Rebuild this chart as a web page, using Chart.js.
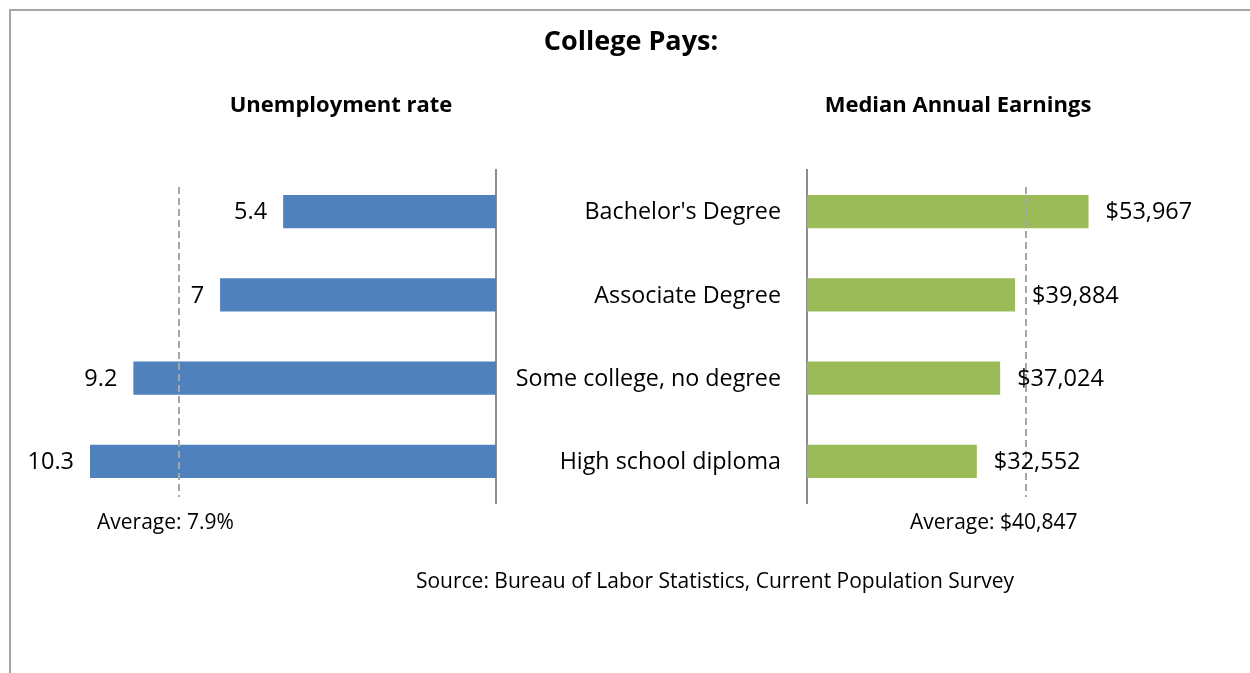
<!DOCTYPE html>
<html><head><meta charset="utf-8">
<script src="https://cdn.jsdelivr.net/npm/chart.js@4/dist/chart.umd.min.js"></script>
<style>
html,body{margin:0;padding:0;background:#fff;}
#wrap{position:relative;width:1250px;height:673px;overflow:hidden;background:#fff;}
#frame{position:absolute;left:9px;top:9px;width:1300px;height:700px;border-left:2px solid #a6a6a6;border-top:2px solid #a6a6a6;}
canvas{position:absolute;left:0;top:0;}
</style></head><body>
<div id="wrap"><div id="frame"></div>
<canvas id="left" width="1250" height="673"></canvas>
<canvas id="right" width="1250" height="673"></canvas></div>
<script>
// ---- data ----
const categories = ["Bachelor's Degree", "Associate Degree", "Some college, no degree", "High school diploma"];
const unemploymentRate = [5.4, 7, 9.2, 10.3];
const medianEarnings = [53967, 39884, 37024, 32552];
const earningsLabels = ["$53,967", "$39,884", "$37,024", "$32,552"];
const averageUnemploymentLine = 8.05;  // dashed line position as drawn
const averageEarningsLine = 42000;     // dashed line position as drawn
const averageLabels = ["Average: 7.9%", "Average: $40,847"];
const unemploymentAxis = [0, 12];
const earningsAxis = [0, 60000];
const titles = ["College Pays:", "Unemployment rate", "Median Annual Earnings"];
const sourceText = "Source: Bureau of Labor Statistics, Current Population Survey";

const FONT = "'Open Sans', sans-serif";

function dashedLine(chart, value) {
  const ctx = chart.ctx, x = chart.scales.x.getPixelForValue(value), a = chart.chartArea;
  ctx.save();
  ctx.strokeStyle = '#a6a6a6'; ctx.lineWidth = 2; ctx.setLineDash([7, 4]);
  ctx.beginPath(); ctx.moveTo(Math.round(x), a.top + 17); ctx.lineTo(Math.round(x), a.bottom - 6); ctx.stroke();
  ctx.restore();
}

const leftPlugin = {
  id: 'leftText',
  afterDraw(chart) {
    dashedLine(chart, averageUnemploymentLine);
    const ctx = chart.ctx;
    const meta = chart.getDatasetMeta(0);
    ctx.save();
    ctx.fillStyle = '#000'; ctx.font = '23.5px ' + FONT; ctx.textAlign = 'right'; ctx.textBaseline = 'middle';
    meta.data.forEach((bar, i) => { ctx.fillText(String(unemploymentRate[i]), bar.x - 16, bar.y + 1); });
    ctx.restore();
  }
};

const rightPlugin = {
  id: 'rightText',
  afterDraw(chart) {
    dashedLine(chart, averageEarningsLine);
    const ctx = chart.ctx;
    const meta = chart.getDatasetMeta(0);
    const a = chart.chartArea;
    ctx.save();
    ctx.fillStyle = '#000'; ctx.textBaseline = 'middle';
    meta.data.forEach((bar, i) => {
      ctx.font = '23.5px ' + FONT;
      ctx.textAlign = 'left';
      ctx.fillText(earningsLabels[i], bar.x + 17, bar.y + 1);
      ctx.font = '23.3px ' + FONT;
      ctx.textAlign = 'right';
      ctx.fillText(categories[i], a.left - 26, bar.y + 1);
    });
    ctx.textAlign = 'center';
    ctx.font = 'bold 27px ' + FONT;
    ctx.fillText(titles[0], 631, 42);
    ctx.font = 'bold 22px ' + FONT;
    ctx.fillText(titles[1], 341, 106);
    ctx.fillText(titles[2], 958, 106);
    ctx.font = '21px ' + FONT;
    ctx.fillText(sourceText, 715, 582);
    ctx.textAlign = 'left';
    ctx.fillText(averageLabels[0], 97, 523);
    ctx.fillText(averageLabels[1], 910, 523);
    ctx.restore();
  }
};

function barChart(id, values, color, axis, reverse, pad, yPos, plugin) {
  return new Chart(document.getElementById(id), {
    type: 'bar',
    data: { labels: categories, datasets: [{ data: values, backgroundColor: color, barPercentage: 0.4, categoryPercentage: 1 }] },
    options: {
      indexAxis: 'y', responsive: false, animation: false, devicePixelRatio: 1,
      layout: { padding: pad },
      plugins: { legend: { display: false }, tooltip: { enabled: false }, title: { display: false } },
      scales: {
        x: { min: axis[0], max: axis[1], reverse: reverse, display: false },
        y: { position: yPos, grid: { display: false, drawTicks: false }, ticks: { display: false }, border: { display: true, color: '#8c8c8c', width: 2 } }
      }
    },
    plugins: [plugin]
  });
}

barChart('left', unemploymentRate, '#4F81BD', unemploymentAxis, true, { left: 23, right: 754, top: 170, bottom: 170 }, 'right', leftPlugin);
barChart('right', medianEarnings, '#9BBB59', earningsAxis, false, { left: 807, right: 130, top: 170, bottom: 170 }, 'left', rightPlugin);
</script>
</body></html>
